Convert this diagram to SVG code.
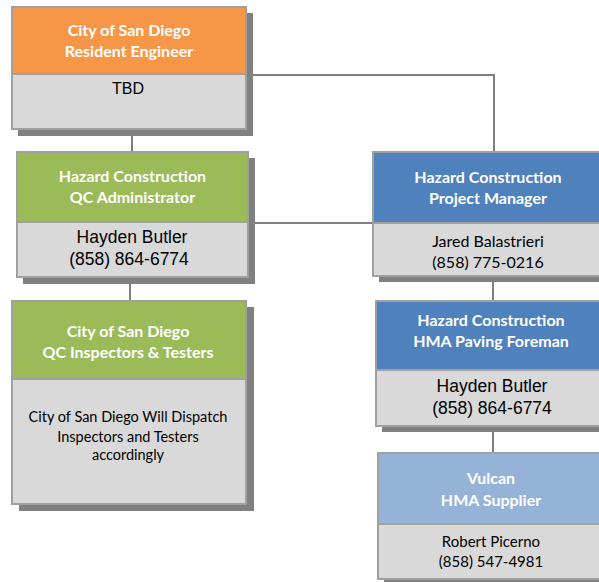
<svg xmlns="http://www.w3.org/2000/svg" width="599" height="582" viewBox="0 0 599 582">
<style>
.sh{fill:#808080}
.bd{fill:#D9D9D9;stroke:#A0A0A0;stroke-width:2}
.hd{stroke:#A0A0A0;stroke-width:2}
.or{fill:#F79646}.gr{fill:#9BBB59}.bl{fill:#4F81BD}.lb{fill:#95B3D7}
.t{font-family:Lato,"Open Sans",sans-serif;font-weight:bold;font-size:16px;fill:#fff;text-anchor:middle}
.a{font-family:"Liberation Sans",Arial,sans-serif;font-size:17.5px;fill:#000;text-anchor:middle}
.c{font-family:Lato,"Open Sans",sans-serif;font-size:14.5px;fill:#000;text-anchor:middle}
.ln{stroke:#808080;stroke-width:2;fill:none}
</style>
<g id="connectors">
<path class="ln" d="M132 129V152"/>
<path class="ln" d="M246 75H494V152"/>
<path class="ln" d="M130 277V301"/>
<path class="ln" d="M248 223H373"/>
<path class="ln" d="M493 276V301"/>
<path class="ln" d="M493 426V453"/>
</g>
<g id="resident-engineer">
<rect class="sh" x="18" y="13" width="235" height="123"/>
<rect class="bd" x="12" y="7" width="234" height="122"/>
<rect class="or hd" x="12" y="7" width="234" height="67"/>
<text class="t" x="129" y="36">City of San Diego</text>
<text class="t" x="129" y="57">Resident Engineer</text>
<text class="a" x="128" y="94" style="font-size:16px">TBD</text>
</g>
<g id="qc-administrator">
<rect class="sh" x="23" y="158" width="232" height="126"/>
<rect class="bd" x="17" y="152" width="231" height="125"/>
<rect class="gr hd" x="17" y="152" width="231" height="70"/>
<text class="t" x="132.5" y="182">Hazard Construction</text>
<text class="t" x="132.5" y="203">QC Administrator</text>
<text class="a" x="132" y="243">Hayden Butler</text>
<text class="a" x="129" y="265">(858) 864-6774</text>
</g>
<g id="qc-inspectors">
<rect class="sh" x="19" y="307" width="235" height="204"/>
<rect class="bd" x="12" y="301" width="234" height="203"/>
<rect class="gr hd" x="12" y="301" width="234" height="78"/>
<text class="t" x="128" y="337">City of San Diego</text>
<text class="t" x="128" y="358">QC Inspectors &amp; Testers</text>
<text class="c" x="128" y="422">City of San Diego Will Dispatch</text>
<text class="c" x="128" y="442">Inspectors and Testers</text>
<text class="c" x="128" y="460">accordingly</text>
</g>
<g id="project-manager">
<rect class="sh" x="379" y="158" width="240" height="124"/>
<rect class="bd" x="373" y="152" width="240" height="124"/>
<rect class="bl hd" x="373" y="152" width="240" height="71"/>
<text class="t" x="488" y="183">Hazard Construction</text>
<text class="t" x="488" y="204">Project Manager</text>
<text class="c" x="488" y="247" style="font-size:16px">Jared Balastrieri</text>
<text class="c" x="488" y="268" style="font-size:16px">(858) 775-0216</text>
</g>
<g id="paving-foreman">
<rect class="sh" x="382" y="307" width="240" height="125"/>
<rect class="bd" x="376" y="301" width="240" height="125"/>
<rect class="bl hd" x="376" y="301" width="240" height="69"/>
<text class="t" x="491" y="326">Hazard Construction</text>
<text class="t" x="491" y="347">HMA Paving Foreman</text>
<text class="a" x="492" y="392">Hayden Butler</text>
<text class="a" x="492" y="414">(858) 864-6774</text>
</g>
<g id="hma-supplier">
<rect class="sh" x="384" y="459" width="240" height="126"/>
<rect class="bd" x="378" y="453" width="240" height="126"/>
<rect class="lb hd" x="378" y="453" width="240" height="71"/>
<text class="t" x="491" y="484">Vulcan</text>
<text class="t" x="491" y="506">HMA Supplier</text>
<text class="c" x="491" y="547" style="font-size:15px">Robert Picerno</text>
<text class="c" x="491" y="567" style="font-size:15px">(858) 547-4981</text>
</g>
</svg>
